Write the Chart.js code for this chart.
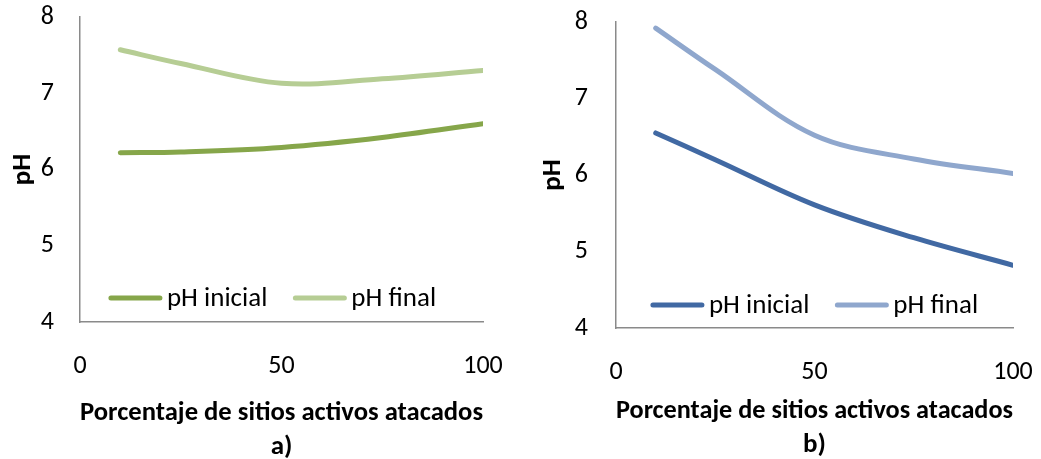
<!DOCTYPE html>
<html>
<head>
<meta charset="utf-8">
<script src="https://cdn.jsdelivr.net/npm/chart.js@4"></script>
<style>
  body { margin: 0; background: #fff; }
  #wrap { position: relative; width: 1041px; height: 459px; }
  canvas { position: absolute; top: 0; }
  #chartA { left: 0; }
  #chartB { left: 520px; }
</style>
</head>
<body>
<div id="wrap">
  <canvas id="chartA" width="520" height="459"></canvas>
  <canvas id="chartB" width="521" height="459"></canvas>
</div>
<script>
// porcentaje de sitios activos atacados
const sitios = [10, 25, 50, 75, 100];

// panel a)
const phInicialA = [6.22, 6.23, 6.29, 6.42, 6.60];
const phFinalA = [7.57, 7.39, 7.13, 7.19, 7.30];

// panel b)
const phInicialB = [6.55, 6.20, 5.61, 5.18, 4.82];
const phFinalB = [7.92, 7.38, 6.52, 6.21, 6.02];

const xTitle = 'Porcentaje de sitios activos atacados';
const seriesNames = ['pH inicial', 'pH final'];

const FONT = 'Carlito, Calibri, Lato, sans-serif';
const AXIS_COLOR = '#8a8a8a';

// legend drawn inside the plot, near the bottom edge
const insideLegend = {
    id: 'insideLegend',
    afterDraw(chart, args, opts) {
        const { ctx, chartArea } = chart;
        const sample = 53, gap = 5, between = 26;
        ctx.save();
        ctx.font = `27px ${FONT}`;
        const items = chart.data.datasets.map(ds => ({
            text: ds.label,
            color: ds.borderColor,
            w: ctx.measureText(ds.label).width
        }));
        const total = items.reduce((s, it) => s + sample + gap + it.w, 0) + between * (items.length - 1);
        let x = (chartArea.left + chartArea.right) / 2 - total / 2 + (opts.shift || 0);
        const y = chartArea.bottom - opts.offset;
        items.forEach(it => {
            ctx.strokeStyle = it.color;
            ctx.lineWidth = 5;
            ctx.lineCap = 'round';
            ctx.beginPath();
            ctx.moveTo(x + 2, y);
            ctx.lineTo(x + sample - 2, y);
            ctx.stroke();
            x += sample + gap;
            ctx.fillStyle = '#000';
            ctx.textBaseline = 'middle';
            ctx.fillText(it.text, x, y + 1);
            x += it.w + between;
        });
        ctx.restore();
    }
};

function makePoints(values) {
    return sitios.map((x, i) => ({ x: x, y: values[i] }));
}

function buildChart(id, inicial, final, colors, geo) {
    const ctx = document.getElementById(id);
    return new Chart(ctx, {
        type: 'line',
        data: {
            datasets: [
                {
                    label: seriesNames[0],
                    data: makePoints(inicial),
                    borderColor: colors[0],
                    borderWidth: 5,
                    borderCapStyle: 'round',
                    pointRadius: 0,
                    tension: 0.35
                },
                {
                    label: seriesNames[1],
                    data: makePoints(final),
                    borderColor: colors[1],
                    borderWidth: 5,
                    borderCapStyle: 'round',
                    pointRadius: 0,
                    tension: 0.35
                }
            ]
        },
        options: {
            responsive: false,
            animation: false,
            layout: {
                padding: { top: geo.top, right: geo.right, bottom: 0, left: 0 }
            },
            scales: {
                x: {
                    type: 'linear',
                    min: 0,
                    max: 100,
                    afterFit: s => {
                        s.height = geo.xHeight;
                        s.paddingLeft = 0;
                        s.paddingRight = 0;
                    },
                    grid: { display: false, drawTicks: false },
                    border: { display: true, color: AXIS_COLOR, width: 1.5 },
                    ticks: {
                        stepSize: 50,
                        padding: 29,
                        color: '#000',
                        font: { family: FONT, size: 26 }
                    },
                    title: {
                        display: true,
                        text: [xTitle, geo.tag],
                        color: '#000',
                        padding: { top: 0, bottom: geo.titleBottom },
                        font: { family: FONT, size: 27, weight: 'bold', lineHeight: '34px' }
                    }
                },
                y: {
                    min: 4,
                    max: 8,
                    afterFit: s => {
                        s.width = geo.yWidth;
                        s.paddingTop = 0;
                        s.paddingBottom = 0;
                    },
                    grid: { display: false, drawTicks: false },
                    border: { display: true, color: AXIS_COLOR, width: 1.5 },
                    ticks: {
                        stepSize: 1,
                        padding: geo.yTickPad,
                        color: '#000',
                        font: { family: FONT, size: 26 }
                    },
                    title: {
                        display: true,
                        text: 'pH',
                        color: '#000',
                        padding: { top: geo.yTitlePad, bottom: 0 },
                        font: { family: FONT, size: 27, weight: 'bold', lineHeight: 1 }
                    }
                }
            },
            plugins: {
                legend: { display: false },
                tooltip: { enabled: false },
                insideLegend: { offset: geo.legendOffset, shift: geo.legendShift }
            }
        },
        plugins: [insideLegend]
    });
}

buildChart('chartA', phInicialA, phFinalA, ['#86A64A', '#B6CD94'], {
    top: 17, right: 37, xHeight: 137, yWidth: 80, yTickPad: 26, yTitlePad: 10,
    titleBottom: -5, tag: 'a)', legendOffset: 24, legendShift: -9
});

buildChart('chartB', phInicialB, phFinalB, ['#4169A3', '#8FA7CD'], {
    top: 22, right: 28, xHeight: 131, yWidth: 96, yTickPad: 28, yTitlePad: 20,
    titleBottom: -3, tag: 'b)', legendOffset: 23, legendShift: 0
});
</script>
</body>
</html>
